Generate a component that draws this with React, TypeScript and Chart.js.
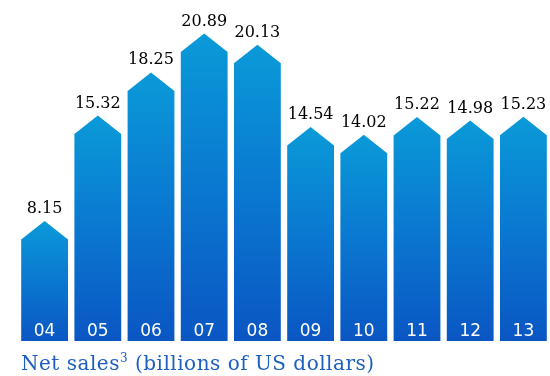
import React, { useEffect, useRef } from "react";
import { Chart, registerables } from "chart.js";

Chart.register(...registerables);

const years = ["04", "05", "06", "07", "08", "09", "10", "11", "12", "13"];
const netSales = [8.15, 15.32, 18.25, 20.89, 20.13, 14.54, 14.02, 15.22, 14.98, 15.23];
const valueLabels = ["8.15", "15.32", "18.25", "20.89", "20.13", "14.54", "14.02", "15.22", "14.98", "15.23"];
const titleMain = "Net sales";
const titleSup = "3";
const titleRest = " (billions of US dollars)";

const arrowPlugin = {
  id: "arrowBars",
  afterDatasetsDraw(chart: any) {
    const ctx = chart.ctx as CanvasRenderingContext2D;
    const meta = chart.getDatasetMeta(0);
    meta.data.forEach((el: any, i: number) => {
      const { x, y, base, width } = el.getProps(["x", "y", "base", "width"], true);
      const l = x - width / 2;
      const r = x + width / 2;
      const shoulder = y + 18.5;
      const g = ctx.createLinearGradient(0, y, 0, base);
      g.addColorStop(0, "#0a9ad8");
      g.addColorStop(0.5, "#0a78d0");
      g.addColorStop(1, "#0a56c3");
      ctx.save();
      ctx.beginPath();
      ctx.moveTo(l, base);
      ctx.lineTo(l, shoulder);
      ctx.lineTo(x, y);
      ctx.lineTo(r, shoulder);
      ctx.lineTo(r, base);
      ctx.closePath();
      ctx.fillStyle = g;
      ctx.fill();
      ctx.restore();

      ctx.save();
      ctx.fillStyle = "#000000";
      ctx.font = "16px 'DejaVu Serif'";
      ctx.textAlign = "center";
      ctx.textBaseline = "alphabetic";
      ctx.fillText(valueLabels[i], x, y - 8);
      ctx.fillStyle = "#ffffff";
      ctx.font = "17px 'DejaVu Sans'";
      ctx.fillText(chart.data.labels[i], x, base - 5);
      ctx.restore();
    });

    ctx.save();
    ctx.fillStyle = "#1d5fbf";
    ctx.textAlign = "left";
    ctx.textBaseline = "alphabetic";
    (ctx as any).letterSpacing = "0.5px";
    let tx = 21;
    const ty = 370;
    ctx.font = "20px 'DejaVu Serif'";
    ctx.fillText(titleMain, tx, ty);
    tx += ctx.measureText(titleMain).width;
    ctx.font = "12px 'DejaVu Serif'";
    ctx.fillText(titleSup, tx, ty - 8);
    tx += ctx.measureText(titleSup).width;
    ctx.font = "20px 'DejaVu Serif'";
    ctx.fillText(titleRest, tx, ty);
    ctx.restore();
  },
};

export default function App() {
  const ref = useRef<HTMLCanvasElement | null>(null);
  useEffect(() => {
    if (!ref.current) return;
    const chart = new Chart(ref.current, {
      type: "bar",
      data: {
        labels: years,
        datasets: [
          {
            data: netSales,
            backgroundColor: "rgba(0,0,0,0)",
            borderWidth: 0,
            barPercentage: 0.88,
            categoryPercentage: 1,
          },
        ],
      },
      options: {
        responsive: false,
        animation: false,
        layout: { padding: { left: 18, right: 0, top: 0, bottom: 35 } },
        plugins: { legend: { display: false }, tooltip: { enabled: false }, title: { display: false } },
        scales: {
          x: { display: false, offset: true, grid: { display: false } },
          y: { display: false, min: 0, max: 23.17 },
        },
      },
      plugins: [arrowPlugin],
    });
    return () => chart.destroy();
  }, []);
  return (
    <div style={{ position: "absolute", left: 0, top: 0, width: 550, height: 376, background: "#fff" }}>
      <canvas ref={ref} width={550} height={376} style={{ width: 550, height: 376 }} />
    </div>
  );
}
